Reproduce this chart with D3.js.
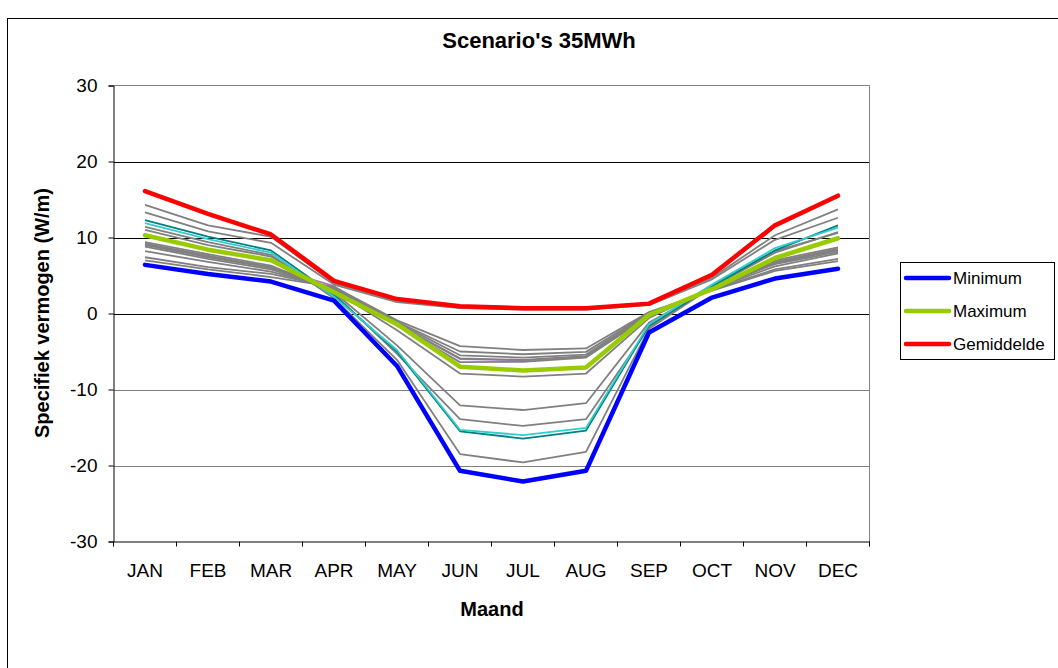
<!DOCTYPE html>
<html><head><meta charset="utf-8">
<script src="https://cdn.jsdelivr.net/npm/d3@7"></script>
<style>body{margin:0;background:#fff}svg{display:block}text{font-family:"Liberation Sans",Arial,sans-serif}</style>
</head><body>
<svg id="c" width="1058" height="668"></svg>
<script>
const months = ["JAN","FEB","MAR","APR","MAY","JUN","JUL","AUG","SEP","OCT","NOV","DEC"];
const yTicks = [30,20,10,0,-10,-20,-30];

// scenario lines (gray)
const g1  = [14.3,11.6,10.1,4.0,1.7,0.8,0.6,0.6,1.2,4.7,10.3,13.7];
const g2  = [13.3,10.8,9.3,3.8,1.5,0.7,0.5,0.5,1.1,4.5,9.7,12.6];
const g3  = [11.4,9.4,7.7,2.0,-6.1,-18.5,-19.6,-18.2,-2.0,3.5,8.0,10.7];
const g4  = [11.0,9.0,7.5,2.6,-5.3,-13.9,-14.8,-13.9,-1.8,3.6,8.2,10.6];
const g5  = [9.4,7.8,6.3,2.8,-4.2,-12.1,-12.7,-11.8,-1.2,3.4,7.0,8.7];
const g6  = [9.2,7.6,6.1,3.0,-2.2,-7.9,-8.3,-7.9,-0.6,3.3,6.8,8.5];
const g7  = [9.0,7.4,6.0,3.1,-1.6,-6.4,-6.36,-5.8,-0.3,3.4,6.7,8.3];
const g8  = [8.8,7.2,5.8,3.2,-1.4,-5.9,-6.1,-5.6,-0.2,3.3,6.5,8.1];
const g9  = [8.2,6.8,5.5,3.3,-1.2,-5.5,-5.8,-5.4,0.0,3.2,6.2,7.9];
const g10 = [7.4,6.1,5.2,3.4,-1.1,-5.0,-5.36,-5.05,0.1,3.1,5.8,7.2];
const g11 = [7.0,5.8,4.8,3.5,-0.9,-4.3,-4.8,-4.6,0.2,3.0,5.6,6.9];
const purple = [9.1,7.5,6.1,3.6,-1.5,-6.0,-6.2,-5.7,-0.3,3.3,6.6,8.4];
const teal = [12.3,10.1,8.3,2.4,-5.0,-15.5,-16.45,-15.4,-1.6,3.6,8.3,11.6];
const cyan = [11.9,9.8,8.0,2.2,-4.8,-15.3,-16.0,-15.05,-1.4,3.8,8.6,11.3];

// highlighted series
const minimum    = [6.4,5.2,4.2,1.7,-6.9,-20.7,-22.1,-20.7,-2.5,2.1,4.6,5.9];
const maximum    = [10.3,8.4,7.0,2.8,-1.4,-7.0,-7.5,-7.1,-0.2,3.2,7.3,9.9];
const gemiddelde = [16.1,13.1,10.4,4.3,1.9,0.95,0.7,0.7,1.3,5.1,11.6,15.5];

const legendNames = ["Minimum","Maximum","Gemiddelde"];

const svg = d3.select("#c");
const L = 113.5, R = 869.5, T = 85.5, B = 541.5;
const x = d3.scaleBand().domain(months).range([L, R]).padding(0);
const y = d3.scaleLinear().domain([-30, 30]).range([B, T]);
const xc = m => x(m) + x.bandwidth() / 2;

// outer frame
svg.append("rect").attr("x", 7.5).attr("y", 18.5).attr("width", 1100).attr("height", 700)
  .attr("fill", "none").attr("stroke", "#000").attr("stroke-width", 1);

// gridlines
svg.append("g").selectAll("line").data(yTicks.filter(d => d !== 30 && d !== -30)).join("line")
  .attr("x1", L).attr("x2", R).attr("y1", d => Math.round(y(d)) + 0.5).attr("y2", d => Math.round(y(d)) + 0.5)
  .attr("stroke", d => d < 0 ? "#808080" : "#000").attr("stroke-width", 1);
// plot border (top/right gray)
svg.append("path").attr("d", `M${L},${T}H${R}V${B}`).attr("fill", "none").attr("stroke", "#808080");

// axes
const yAxis = d3.axisLeft(y).tickValues(yTicks).tickSize(5).tickPadding(11).tickFormat(d => String(d));
const gy = svg.append("g").attr("transform", `translate(${L},0)`).call(yAxis);
gy.select(".domain").attr("stroke", "#000");
gy.selectAll(".tick text").attr("font-size", 19).attr("fill", "#000").attr("font-family", "Liberation Sans, Arial, sans-serif");

const xAxis = d3.axisBottom(x).tickSize(0).tickPadding(22);
const gx = svg.append("g").attr("transform", `translate(0,${B})`).call(xAxis);
gx.select(".domain").attr("stroke", "#000");
gx.selectAll(".tick text").attr("font-size", 19).attr("fill", "#000").attr("font-family", "Liberation Sans, Arial, sans-serif");
// boundary ticks
svg.append("g").selectAll("line").data(months.concat(["_end"])).join("line")
  .attr("x1", (d, i) => i < 12 ? x(d) : R).attr("x2", (d, i) => i < 12 ? x(d) : R)
  .attr("y1", B).attr("y2", B + 5).attr("stroke", "#000");

// lines
const line = d3.line().x((d, i) => xc(months[i])).y(d => y(d));
const thin = [
  {v: purple, c: "#b070c0", w: 1.6},
  {v: g11, c: "#808080", w: 1.8},{v: g10, c: "#808080", w: 1.8},{v: g9, c: "#808080", w: 1.8},
  {v: g8, c: "#808080", w: 1.8},{v: g7, c: "#808080", w: 1.8},{v: g6, c: "#808080", w: 1.8},
  {v: g5, c: "#808080", w: 1.8},{v: g4, c: "#808080", w: 1.8},{v: g3, c: "#808080", w: 1.8},
  {v: g2, c: "#808080", w: 1.8},{v: g1, c: "#808080", w: 1.8},
  {v: teal, c: "#008080", w: 1.8},{v: cyan, c: "#33cccc", w: 1.8}
];
svg.append("g").selectAll("path").data(thin).join("path")
  .attr("d", d => line(d.v)).attr("fill", "none").attr("stroke", d => d.c).attr("stroke-width", d => d.w)
  .attr("stroke-linejoin", "round");

const main = [
  {v: maximum, c: "#99cc00"},
  {v: gemiddelde, c: "#ff0000"},
  {v: minimum, c: "#0000ff"}
];
svg.append("g").selectAll("path").data(main).join("path")
  .attr("d", d => line(d.v)).attr("fill", "none").attr("stroke", d => d.c).attr("stroke-width", 4.5)
  .attr("stroke-linejoin", "round").attr("stroke-linecap", "round");

// title
svg.append("text").attr("x", 539).attr("y", 48).attr("text-anchor", "middle")
  .attr("font-size", 22).attr("font-weight", "bold").text("Scenario's 35MWh");
svg.append("text").attr("x", 492).attr("y", 616).attr("text-anchor", "middle")
  .attr("font-size", 20).attr("font-weight", "bold").text("Maand");
svg.append("text").attr("transform", "translate(49,313) rotate(-90)").attr("text-anchor", "middle")
  .attr("font-size", 20).attr("font-weight", "bold").text("Specifiek vermogen (W/m)");

// legend
const lg = svg.append("g");
lg.append("rect").attr("x", 900.5).attr("y", 262.5).attr("width", 154).attr("height", 97)
  .attr("fill", "#fff").attr("stroke", "#000");
const lcol = ["#0000ff", "#99cc00", "#ff0000"];
const ly = [278, 311, 344];
legendNames.forEach((n, i) => {
  lg.append("line").attr("x1", 906).attr("x2", 949).attr("y1", ly[i]).attr("y2", ly[i])
    .attr("stroke", lcol[i]).attr("stroke-width", 4.5).attr("stroke-linecap", "round");
  lg.append("text").attr("x", 953).attr("y", ly[i] + 6).attr("font-size", 17).text(n);
});
</script>
</body></html>
